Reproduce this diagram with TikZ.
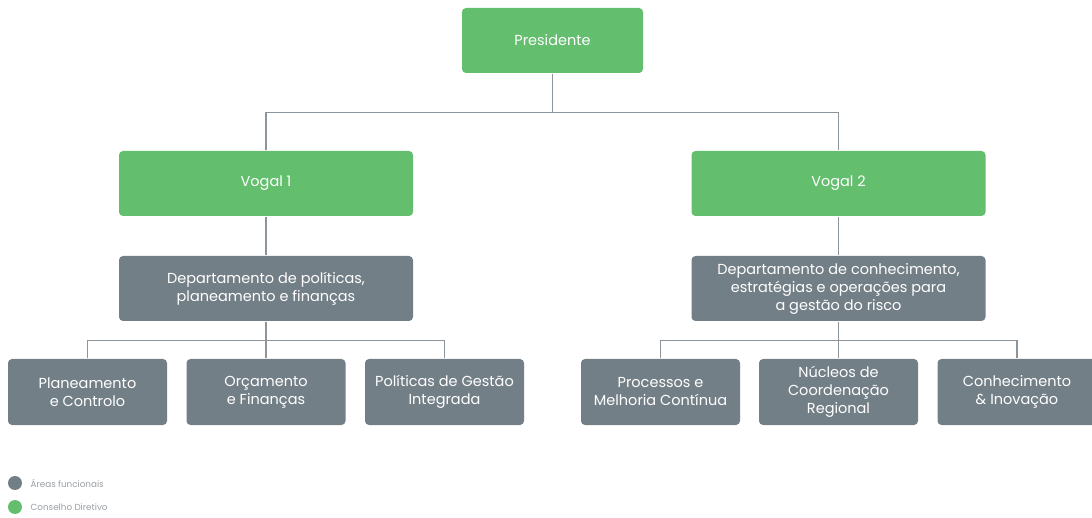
\documentclass[tikz,border=0pt]{standalone}
\usepackage{fontspec}
\setmainfont{Poppins}
\usepackage{tikz}
\definecolor{boardgreen}{HTML}{63BE6E}
\definecolor{areagray}{HTML}{737F87}
\definecolor{linegray}{HTML}{8C959B}
\definecolor{legendgray}{HTML}{9A9FA3}

\begin{document}
\begin{tikzpicture}
          [x = 1pt, y = -1pt, line width = 1.3pt,
           box/.style = {rounded corners = 4pt, text = white, align = center,
             font = \fontsize{14.5}{18}\selectfont, inner sep = 0pt},
           board/.style = {box, fill = boardgreen},
           area/.style = {box, fill = areagray},
           link/.style = {draw = linegray, line width = 1.3pt}]
          \useasboundingbox (0,0) rectangle (1092,518);
          \node[board, minimum width = 181pt, minimum height = 65pt] (pres) at (552.5,40.5) {Presidente};
          \node[board, minimum width = 294pt, minimum height = 65pt] (vog1) at (266,183.5) {Vogal 1};
          \node[board, minimum width = 294pt, minimum height = 65pt] (vog2) at (838.5,183.5) {Vogal 2};
          \node[area, minimum width = 294pt, minimum height = 65pt] (dep1) at (266,288.5)
            {Departamento de políticas,\\planeamento e finanças};
          \node[area, minimum width = 294pt, minimum height = 65pt] (dep2) at (838.5,288.5)
            {Departamento de conhecimento,\\estratégias e operações para\\a gestão do risco};
          \node[area, minimum width = 159pt, minimum height = 66pt] (pla) at (87.5,392) {Planeamento\\e Controlo};
          \node[area, minimum width = 159pt, minimum height = 66pt] (orc) at (266,392) {Orçamento\\e Finanças};
          \node[area, minimum width = 159pt, minimum height = 66pt] (pol) at (444.5,392) {Políticas de Gestão\\Integrada};
          \node[area, minimum width = 159pt, minimum height = 66pt] (pro) at (660.5,392) {Processos e\\Melhoria Contínua};
          \node[area, minimum width = 159pt, minimum height = 66pt] (nuc) at (838.5,392) {Núcleos de\\Coordenação\\Regional};
          \node[area, minimum width = 159pt, minimum height = 66pt] (con) at (1017,392) {Conhecimento\\\& Inovação};
          % connectors
          \draw[link] (pres.south) -- ++(0,39) coordinate (topjoin);
          \draw[link] (vog1.north) |- (topjoin) -| (vog2.north);
          \draw[link] (vog1.south) -- (dep1.north);
          \draw[link] (vog2.south) -- (dep2.north);
          \draw[link] (dep1.south) -- ++(0,19) coordinate (leftjoin);
          \draw[link] (pla.north) |- (leftjoin) -| (pol.north);
          \draw[link] (leftjoin) -- (orc.north);
          \draw[link] (dep2.south) -- ++(0,19) coordinate (rightjoin);
          \draw[link] (pro.north) |- (rightjoin) -| (con.north);
          \draw[link] (rightjoin) -- (nuc.north);
          % legend
          \node[circle, fill = areagray, minimum size = 14pt, inner sep = 0pt] (keyarea) at (15,483) {};
          \node[circle, fill = boardgreen, minimum size = 14pt, inner sep = 0pt] (keyboard) at (15,507) {};
          \node[right = 4pt, text = legendgray, font = \fontsize{8.8}{10}\selectfont] at (keyarea.east) {Áreas funcionais};
          \node[right = 4pt, text = legendgray, font = \fontsize{8.8}{10}\selectfont] at (keyboard.east) {Conselho Diretivo};
        \end{tikzpicture}
\end{document}
